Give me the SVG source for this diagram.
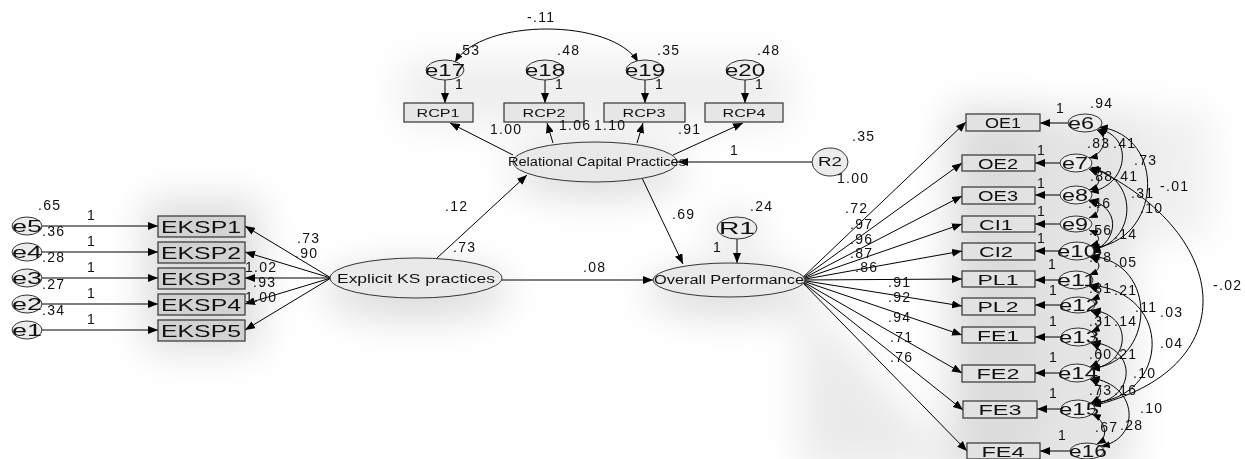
<svg xmlns="http://www.w3.org/2000/svg" width="1245" height="459" viewBox="0 0 1245 459">
  <style>
    text { font-family: "Liberation Sans", Arial, sans-serif; fill: #111; }
    .n { font-size: 14px; letter-spacing: 1.3px; }
    .ev { font-size: 17px; text-anchor: middle; }
    .big { font-size: 17px; text-anchor: middle; }
    .mid { font-size: 15px; text-anchor: middle; }
    .sm { font-size: 11px; text-anchor: middle; }
    .lat { font-size: 12px; text-anchor: middle; }
    .box { stroke: #333; stroke-width: 1.2; }
    .obs1 { fill: #d2d2d2; }
    .obs2 { fill: #e6e6e6; }
    .obs3 { fill: #e2e2e2; }
    .ell { fill: #e9e9e9; stroke: #333; stroke-width: 1; }
    .err { fill: #ececec; stroke: #333; stroke-width: 1; }
    .path { fill: none; stroke: #000; stroke-width: 1; marker-end: url(#ah); }
    .cov { fill: none; stroke: #000; stroke-width: 1; marker-start: url(#ch); marker-end: url(#ch); }
  </style>
  <defs>
    <marker id="ah" viewBox="0 0 10 8" refX="10" refY="4" markerWidth="10" markerHeight="8" markerUnits="userSpaceOnUse" orient="auto">
      <path d="M0,0 L10,4 L0,8 Z" fill="#000"/>
    </marker>
    <marker id="ch" viewBox="0 0 10 8" refX="10" refY="4" markerWidth="9" markerHeight="7" markerUnits="userSpaceOnUse" orient="auto-start-reverse">
      <path d="M0,0 L10,4 L0,8 Z" fill="#000"/>
    </marker>
    <filter id="haze" x="-50%" y="-50%" width="200%" height="200%">
      <feGaussianBlur stdDeviation="20"/>
    </filter>
  </defs>

  <rect width="1245" height="459" fill="#fff"/>

  <!-- soft grey shading behind the model -->
  <g id="shade" filter="url(#haze)" fill="#000" opacity="0.14">
    <rect x="145" y="200" width="115" height="150"/>
    <ellipse cx="416" cy="292" rx="95" ry="28"/>
    <ellipse cx="597" cy="172" rx="88" ry="26"/>
    <rect x="400" y="60" width="390" height="66" opacity="0.5"/>
    <ellipse cx="729" cy="292" rx="85" ry="24"/>
    <ellipse cx="737" cy="232" rx="24" ry="16"/>
    <polygon points="800,290 960,470 800,470" opacity="0.6"/>
    <rect x="950" y="108" width="100" height="370"/>
    <rect x="1055" y="112" width="75" height="366" opacity="0.8"/>
    <rect x="1120" y="110" width="90" height="130" opacity="0.45"/>
  </g>

  <!-- connectors -->
  <g id="connectors">
    <!-- error terms to EKSP indicators -->
    <line class="path" x1="42" y1="226" x2="158" y2="226"/>
    <line class="path" x1="42" y1="252" x2="158" y2="252"/>
    <line class="path" x1="42" y1="278" x2="158" y2="278"/>
    <line class="path" x1="42" y1="304" x2="158" y2="304"/>
    <line class="path" x1="42" y1="330" x2="158" y2="330"/>
    <!-- Explicit KS practices loadings -->
    <line class="path" x1="331" y1="278" x2="245" y2="226"/>
    <line class="path" x1="331" y1="278" x2="245" y2="252"/>
    <line class="path" x1="331" y1="278" x2="245" y2="278"/>
    <line class="path" x1="331" y1="278" x2="245" y2="304"/>
    <line class="path" x1="331" y1="278" x2="245" y2="330"/>
    <!-- structural paths -->
    <line class="path" x1="437" y1="258" x2="527" y2="175"/>
    <line class="path" x1="502" y1="280" x2="653" y2="280"/>
    <line class="path" x1="642" y1="178" x2="683" y2="264"/>
    <line class="path" x1="737" y1="239" x2="737" y2="263"/>
    <line class="path" x1="812" y1="162" x2="678" y2="162"/>
    <!-- RCP loadings -->
    <line class="path" x1="513" y1="155" x2="450" y2="123"/>
    <line class="path" x1="553" y1="143" x2="547" y2="123"/>
    <line class="path" x1="637" y1="143" x2="643" y2="123"/>
    <line class="path" x1="673" y1="155" x2="743" y2="123"/>
    <!-- e17..e20 to RCP indicators -->
    <line class="path" x1="445" y1="80" x2="445" y2="103"/>
    <line class="path" x1="545" y1="80" x2="545" y2="103"/>
    <line class="path" x1="645" y1="80" x2="645" y2="103"/>
    <line class="path" x1="745" y1="80" x2="745" y2="103"/>
    <path class="cov" d="M455,62 C482,18 612,18 638,62"/>
    <!-- Overall Performance loadings -->
    <line class="path" x1="800" y1="280" x2="966" y2="122"/>
    <line class="path" x1="800" y1="280" x2="962" y2="163"/>
    <line class="path" x1="800" y1="280" x2="962" y2="196"/>
    <line class="path" x1="800" y1="280" x2="962" y2="224"/>
    <line class="path" x1="800" y1="280" x2="962" y2="251"/>
    <line class="path" x1="800" y1="280" x2="962" y2="279"/>
    <line class="path" x1="800" y1="280" x2="962" y2="306"/>
    <line class="path" x1="800" y1="280" x2="962" y2="335"/>
    <line class="path" x1="800" y1="280" x2="962" y2="373"/>
    <line class="path" x1="800" y1="280" x2="963" y2="410"/>
    <line class="path" x1="800" y1="280" x2="967" y2="451"/>
    <!-- e6..e16 to indicators -->
    <line class="path" x1="1068" y1="123" x2="1040" y2="123"/>
    <line class="path" x1="1060" y1="163" x2="1035" y2="163"/>
    <line class="path" x1="1060" y1="195" x2="1035" y2="195"/>
    <line class="path" x1="1060" y1="224" x2="1035" y2="224"/>
    <line class="path" x1="1060" y1="251" x2="1035" y2="251"/>
    <line class="path" x1="1060" y1="280" x2="1035" y2="280"/>
    <line class="path" x1="1062" y1="305" x2="1035" y2="305"/>
    <line class="path" x1="1062" y1="337" x2="1035" y2="337"/>
    <line class="path" x1="1061" y1="373" x2="1035" y2="373"/>
    <line class="path" x1="1062" y1="409" x2="1037" y2="409"/>
    <line class="path" x1="1071" y1="451" x2="1040" y2="451"/>
    <!-- residual covariances -->
    <path class="cov" d="M1097,130 C1110,137 1103,155 1089,158"/>
    <path class="cov" d="M1098,129 C1135,136 1128,186 1090,192"/>
    <path class="cov" d="M1099,127 C1168,135 1162,243 1091,248"/>
    <path class="cov" d="M1089,169 C1102,175 1102,186 1089,190"/>
    <path class="cov" d="M1090,168 C1140,176 1138,243 1091,250"/>
    <path class="cov" d="M1089,200 C1120,206 1120,240 1092,252"/>
    <path class="cov" d="M1089,201 C1101,206 1101,213 1089,218"/>
    <path class="cov" d="M1089,230 C1101,235 1102,242 1090,246"/>
    <path class="cov" d="M1092,167 C1235,235 1245,370 1092,406"/>
    <path class="cov" d="M1090,257 C1102,262 1102,270 1089,275"/>
    <path class="cov" d="M1091,256 C1160,262 1155,365 1091,368"/>
    <path class="cov" d="M1089,286 C1101,291 1103,295 1091,300"/>
    <path class="cov" d="M1090,285 C1175,292 1170,398 1092,403"/>
    <path class="cov" d="M1091,311 C1104,317 1104,326 1091,332"/>
    <path class="cov" d="M1092,310 C1135,315 1130,365 1091,369"/>
    <path class="cov" d="M1091,343 C1105,350 1104,360 1090,367"/>
    <path class="cov" d="M1092,342 C1140,348 1135,400 1092,404"/>
    <path class="cov" d="M1090,379 C1104,386 1104,396 1091,403"/>
    <path class="cov" d="M1091,378 C1140,385 1140,440 1101,446"/>
    <path class="cov" d="M1092,414 C1105,420 1110,437 1097,444"/>
  </g>

  <!-- EKSP measurement block -->
  <g id="e5"><ellipse class="err" cx="27" cy="226" rx="15" ry="9"/><text class="ev" x="27" y="232" textLength="30" lengthAdjust="spacingAndGlyphs">e5</text></g>
  <g id="e4"><ellipse class="err" cx="27" cy="252" rx="15" ry="9"/><text class="ev" x="27" y="258" textLength="30" lengthAdjust="spacingAndGlyphs">e4</text></g>
  <g id="e3"><ellipse class="err" cx="27" cy="278" rx="15" ry="9"/><text class="ev" x="27" y="284" textLength="30" lengthAdjust="spacingAndGlyphs">e3</text></g>
  <g id="e2"><ellipse class="err" cx="27" cy="304" rx="15" ry="9"/><text class="ev" x="27" y="310" textLength="30" lengthAdjust="spacingAndGlyphs">e2</text></g>
  <g id="e1"><ellipse class="err" cx="27" cy="330" rx="15" ry="9"/><text class="ev" x="27" y="336" textLength="30" lengthAdjust="spacingAndGlyphs">e1</text></g>

  <g id="EKSP1"><rect class="box obs1" x="158" y="216" width="87" height="21"/><text class="big" x="201" y="233" textLength="80" lengthAdjust="spacingAndGlyphs">EKSP1</text></g>
  <g id="EKSP2"><rect class="box obs1" x="158" y="242" width="87" height="21"/><text class="big" x="201" y="259" textLength="80" lengthAdjust="spacingAndGlyphs">EKSP2</text></g>
  <g id="EKSP3"><rect class="box obs1" x="158" y="268" width="87" height="21"/><text class="big" x="201" y="285" textLength="80" lengthAdjust="spacingAndGlyphs">EKSP3</text></g>
  <g id="EKSP4"><rect class="box obs1" x="158" y="294" width="87" height="21"/><text class="big" x="201" y="311" textLength="80" lengthAdjust="spacingAndGlyphs">EKSP4</text></g>
  <g id="EKSP5"><rect class="box obs1" x="158" y="320" width="87" height="21"/><text class="big" x="201" y="337" textLength="80" lengthAdjust="spacingAndGlyphs">EKSP5</text></g>

  <g id="explicit-ks"><ellipse class="ell" cx="416" cy="278" rx="86" ry="20"/><text class="lat" x="416" y="283" font-size="13.5" textLength="158" lengthAdjust="spacingAndGlyphs">Explicit KS practices</text></g>

  <!-- Relational capital block -->
  <g id="rcp"><ellipse class="ell" cx="595" cy="162" rx="82" ry="20"/><text class="lat" x="597" y="166" font-size="11.5" textLength="178" lengthAdjust="spacingAndGlyphs">Relational Capital Practices</text></g>
  <g id="RCP1"><rect class="box obs2" x="404" y="103" width="69" height="19"/><text class="sm" x="438" y="117" textLength="43" lengthAdjust="spacingAndGlyphs">RCP1</text></g>
  <g id="RCP2"><rect class="box obs2" x="504" y="103" width="80" height="19"/><text class="sm" x="544" y="117" textLength="43" lengthAdjust="spacingAndGlyphs">RCP2</text></g>
  <g id="RCP3"><rect class="box obs2" x="604" y="103" width="81" height="19"/><text class="sm" x="644" y="117" textLength="43" lengthAdjust="spacingAndGlyphs">RCP3</text></g>
  <g id="RCP4"><rect class="box obs2" x="705" y="103" width="78" height="19"/><text class="sm" x="744" y="117" textLength="43" lengthAdjust="spacingAndGlyphs">RCP4</text></g>
  <g id="e17"><ellipse class="err" cx="445" cy="70" rx="19" ry="10"/><text class="ev" x="445" y="76" textLength="40" lengthAdjust="spacingAndGlyphs">e17</text></g>
  <g id="e18"><ellipse class="err" cx="545" cy="70" rx="19" ry="10"/><text class="ev" x="545" y="76" textLength="40" lengthAdjust="spacingAndGlyphs">e18</text></g>
  <g id="e19"><ellipse class="err" cx="645" cy="70" rx="19" ry="10"/><text class="ev" x="645" y="76" textLength="40" lengthAdjust="spacingAndGlyphs">e19</text></g>
  <g id="e20"><ellipse class="err" cx="745" cy="70" rx="19" ry="10"/><text class="ev" x="745" y="76" textLength="40" lengthAdjust="spacingAndGlyphs">e20</text></g>
  <g id="R2"><ellipse class="err" cx="830" cy="162" rx="18" ry="14"/><text class="lat" x="830" y="166" textLength="24" lengthAdjust="spacingAndGlyphs">R2</text></g>

  <!-- Outcome block -->
  <g id="overall"><ellipse class="ell" cx="729" cy="280" rx="76" ry="17"/><text class="lat" x="729" y="284" textLength="150" lengthAdjust="spacingAndGlyphs">Overall Performance</text></g>
  <g id="R1"><ellipse class="err" cx="737" cy="228" rx="20" ry="11"/><text class="ev" x="737" y="234" textLength="36" lengthAdjust="spacingAndGlyphs">R1</text></g>

  <g id="OE1"><rect class="box obs3" x="966" y="114" width="74" height="17"/><text class="mid" x="1003" y="128" textLength="36" lengthAdjust="spacingAndGlyphs">OE1</text></g>
  <g id="OE2"><rect class="box obs3" x="962" y="155" width="73" height="16"/><text class="mid" x="998" y="169" textLength="40" lengthAdjust="spacingAndGlyphs">OE2</text></g>
  <g id="OE3"><rect class="box obs3" x="962" y="187" width="73" height="17"/><text class="mid" x="998" y="201" textLength="40" lengthAdjust="spacingAndGlyphs">OE3</text></g>
  <g id="CI1"><rect class="box obs3" x="962" y="216" width="73" height="16"/><text class="mid" x="996" y="230" textLength="34" lengthAdjust="spacingAndGlyphs">CI1</text></g>
  <g id="CI2"><rect class="box obs3" x="962" y="243" width="73" height="17"/><text class="mid" x="996" y="257" textLength="34" lengthAdjust="spacingAndGlyphs">CI2</text></g>
  <g id="PL1"><rect class="box obs3" x="962" y="271" width="73" height="16"/><text class="mid" x="998" y="285" textLength="41" lengthAdjust="spacingAndGlyphs">PL1</text></g>
  <g id="PL2"><rect class="box obs3" x="962" y="298" width="73" height="17"/><text class="mid" x="998" y="312" textLength="41" lengthAdjust="spacingAndGlyphs">PL2</text></g>
  <g id="FE1"><rect class="box obs3" x="962" y="327" width="73" height="16"/><text class="mid" x="998" y="341" textLength="42" lengthAdjust="spacingAndGlyphs">FE1</text></g>
  <g id="FE2"><rect class="box obs3" x="962" y="365" width="73" height="17"/><text class="mid" x="998" y="379" textLength="43" lengthAdjust="spacingAndGlyphs">FE2</text></g>
  <g id="FE3"><rect class="box obs3" x="963" y="401" width="74" height="17"/><text class="mid" x="1000" y="415" textLength="43" lengthAdjust="spacingAndGlyphs">FE3</text></g>
  <g id="FE4"><rect class="box obs3" x="967" y="443" width="73" height="16"/><text class="mid" x="1003" y="457" textLength="43" lengthAdjust="spacingAndGlyphs">FE4</text></g>

  <g id="e6"><ellipse class="err" cx="1085" cy="123" rx="17" ry="9"/><text class="ev" x="1081" y="129" textLength="26" lengthAdjust="spacingAndGlyphs">e6</text></g>
  <g id="e7"><ellipse class="err" cx="1076" cy="163" rx="16" ry="9"/><text class="ev" x="1075" y="169" textLength="26" lengthAdjust="spacingAndGlyphs">e7</text></g>
  <g id="e8"><ellipse class="err" cx="1076" cy="195" rx="16" ry="9"/><text class="ev" x="1075" y="201" textLength="26" lengthAdjust="spacingAndGlyphs">e8</text></g>
  <g id="e9"><ellipse class="err" cx="1076" cy="224" rx="16" ry="8"/><text class="ev" x="1075" y="230" textLength="26" lengthAdjust="spacingAndGlyphs">e9</text></g>
  <g id="e10"><ellipse class="err" cx="1077" cy="251" rx="17" ry="9"/><text class="ev" x="1077" y="257" textLength="40" lengthAdjust="spacingAndGlyphs">e10</text></g>
  <g id="e11"><ellipse class="err" cx="1076" cy="280" rx="17" ry="9"/><text class="ev" x="1077" y="286" textLength="40" lengthAdjust="spacingAndGlyphs">e11</text></g>
  <g id="e12"><ellipse class="err" cx="1078" cy="305" rx="17" ry="8"/><text class="ev" x="1079" y="311" textLength="40" lengthAdjust="spacingAndGlyphs">e12</text></g>
  <g id="e13"><ellipse class="err" cx="1078" cy="337" rx="17" ry="9"/><text class="ev" x="1079" y="343" textLength="40" lengthAdjust="spacingAndGlyphs">e13</text></g>
  <g id="e14"><ellipse class="err" cx="1077" cy="373" rx="17" ry="9"/><text class="ev" x="1078" y="379" textLength="40" lengthAdjust="spacingAndGlyphs">e14</text></g>
  <g id="e15"><ellipse class="err" cx="1078" cy="409" rx="17" ry="9"/><text class="ev" x="1079" y="415" textLength="40" lengthAdjust="spacingAndGlyphs">e15</text></g>
  <g id="e16"><ellipse class="err" cx="1087" cy="451" rx="17" ry="8"/><text class="ev" x="1088" y="457" textLength="38" lengthAdjust="spacingAndGlyphs">e16</text></g>

  <!-- estimates -->
  <g id="estimates">
    <text class="n" x="38" y="210">.65</text>
    <text class="n" x="42" y="236">.36</text>
    <text class="n" x="42" y="262">.28</text>
    <text class="n" x="42" y="289">.27</text>
    <text class="n" x="42" y="315">.34</text>
    <text class="n" x="87" y="220">1</text>
    <text class="n" x="87" y="246">1</text>
    <text class="n" x="87" y="272">1</text>
    <text class="n" x="87" y="298">1</text>
    <text class="n" x="87" y="324">1</text>
    <text class="n" x="297" y="243">.73</text>
    <text class="n" x="295" y="258">.90</text>
    <text class="n" x="245" y="272">1.02</text>
    <text class="n" x="253" y="287">.93</text>
    <text class="n" x="245" y="302">1.00</text>

    <text class="n" x="527" y="22">-.11</text>
    <text class="n" x="457" y="55">.53</text>
    <text class="n" x="557" y="55">.48</text>
    <text class="n" x="657" y="55">.35</text>
    <text class="n" x="757" y="55">.48</text>
    <text class="n" x="455" y="89">1</text>
    <text class="n" x="555" y="89">1</text>
    <text class="n" x="655" y="89">1</text>
    <text class="n" x="755" y="89">1</text>
    <text class="n" x="490" y="134">1.00</text>
    <text class="n" x="559" y="130">1.06</text>
    <text class="n" x="594" y="130">1.10</text>
    <text class="n" x="678" y="134">.91</text>
    <text class="n" x="730" y="155">1</text>
    <text class="n" x="852" y="141">.35</text>
    <text class="n" x="837" y="183">1.00</text>

    <text class="n" x="445" y="211">.12</text>
    <text class="n" x="453" y="252">.73</text>
    <text class="n" x="583" y="272">.08</text>
    <text class="n" x="672" y="219">.69</text>
    <text class="n" x="750" y="211">.24</text>
    <text class="n" x="713" y="252">1</text>

    <text class="n" x="845" y="213">.72</text>
    <text class="n" x="850" y="229">.97</text>
    <text class="n" x="850" y="244">.96</text>
    <text class="n" x="850" y="258">.87</text>
    <text class="n" x="855" y="272">.86</text>
    <text class="n" x="888" y="287">.91</text>
    <text class="n" x="888" y="302">.92</text>
    <text class="n" x="888" y="322">.94</text>
    <text class="n" x="890" y="342">.71</text>
    <text class="n" x="890" y="362">.76</text>

    <text class="n" x="1056" y="113">1</text>
    <text class="n" x="1037" y="155">1</text>
    <text class="n" x="1037" y="188">1</text>
    <text class="n" x="1037" y="216">1</text>
    <text class="n" x="1037" y="243">1</text>
    <text class="n" x="1048" y="269">1</text>
    <text class="n" x="1049" y="295">1</text>
    <text class="n" x="1049" y="326">1</text>
    <text class="n" x="1049" y="362">1</text>
    <text class="n" x="1049" y="398">1</text>
    <text class="n" x="1058" y="440">1</text>

    <text class="n" x="1090" y="108">.94</text>
    <text class="n" x="1087" y="148">.83</text>
    <text class="n" x="1113" y="148">.41</text>
    <text class="n" x="1134" y="165">.73</text>
    <text class="n" x="1160" y="191">-.01</text>
    <text class="n" x="1090" y="181">.88</text>
    <text class="n" x="1115" y="181">.41</text>
    <text class="n" x="1131" y="198">.31</text>
    <text class="n" x="1140" y="213">.10</text>
    <text class="n" x="1088" y="208">.46</text>
    <text class="n" x="1089" y="235">.56</text>
    <text class="n" x="1114" y="239">.14</text>
    <text class="n" x="1089" y="262">.78</text>
    <text class="n" x="1114" y="267">.05</text>
    <text class="n" x="1089" y="293">.31</text>
    <text class="n" x="1114" y="295">.21</text>
    <text class="n" x="1135" y="312">.11</text>
    <text class="n" x="1160" y="317">.03</text>
    <text class="n" x="1089" y="326">.31</text>
    <text class="n" x="1114" y="326">.14</text>
    <text class="n" x="1160" y="348">.04</text>
    <text class="n" x="1089" y="359">.60</text>
    <text class="n" x="1114" y="359">.21</text>
    <text class="n" x="1133" y="378">.10</text>
    <text class="n" x="1089" y="395">.73</text>
    <text class="n" x="1114" y="395">.16</text>
    <text class="n" x="1140" y="413">.10</text>
    <text class="n" x="1095" y="432">.67</text>
    <text class="n" x="1120" y="430">.28</text>
    <text class="n" x="1213" y="290">-.02</text>
  </g>
</svg>
